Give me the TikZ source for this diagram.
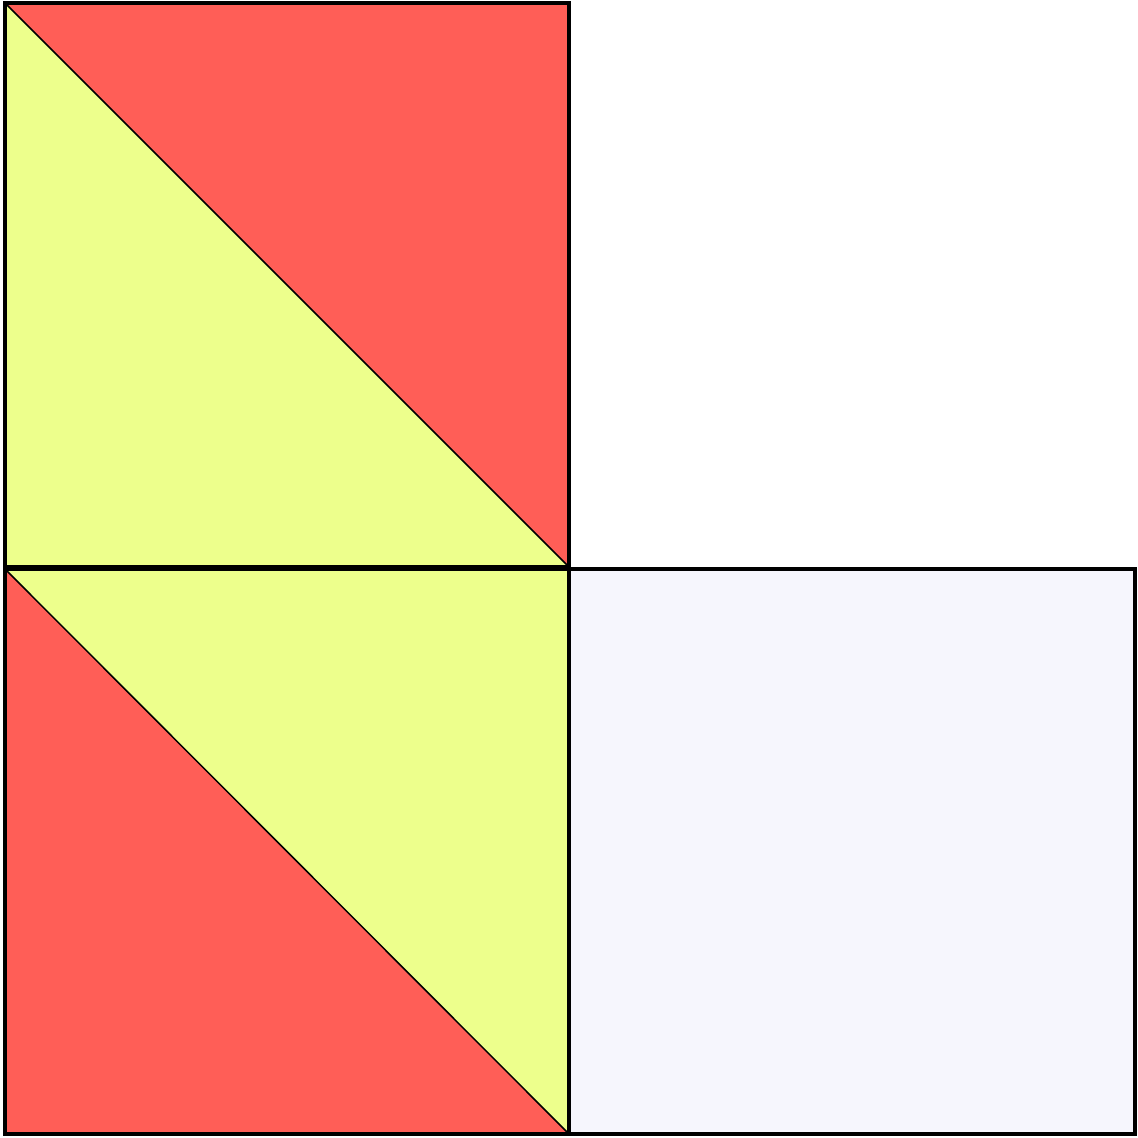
\documentclass[tikz,border=0pt]{standalone}
\definecolor{redf}{RGB}{255,94,87}
\definecolor{yelf}{RGB}{237,255,140}
\definecolor{lavf}{RGB}{246,246,253}
\begin{document}
\begin{tikzpicture}[x=0.1mm,y=-0.1mm,
  tri/.style={draw=black,line width=0.15mm,line join=round},
  sq/.style={draw=black,line width=0.35mm,line join=miter}]
\useasboundingbox (0,0) rectangle (1138,1138);
% top-left square
\coordinate (a1) at (5,3); \coordinate (a2) at (569,3);
\coordinate (a3) at (569,567); \coordinate (a4) at (5,567);
\fill[redf] (a1) -- (a2) -- (a3) -- cycle;
\fill[yelf] (a1) -- (a3) -- (a4) -- cycle;
\draw[tri] (a1) -- (a3);
\draw[sq] (a1) rectangle (a3);
% bottom-left square
\coordinate (b1) at (5,569); \coordinate (b2) at (569,569);
\coordinate (b3) at (569,1134); \coordinate (b4) at (5,1134);
\fill[yelf] (b1) -- (b2) -- (b3) -- cycle;
\fill[redf] (b1) -- (b3) -- (b4) -- cycle;
\draw[tri] (b1) -- (b3);
\draw[sq] (b1) rectangle (b3);
% right square
\coordinate (c1) at (569,569); \coordinate (c3) at (1135,1134);
\fill[lavf] (c1) rectangle (c3);
\draw[sq] (c1) rectangle (c3);
\end{tikzpicture}
\end{document}
